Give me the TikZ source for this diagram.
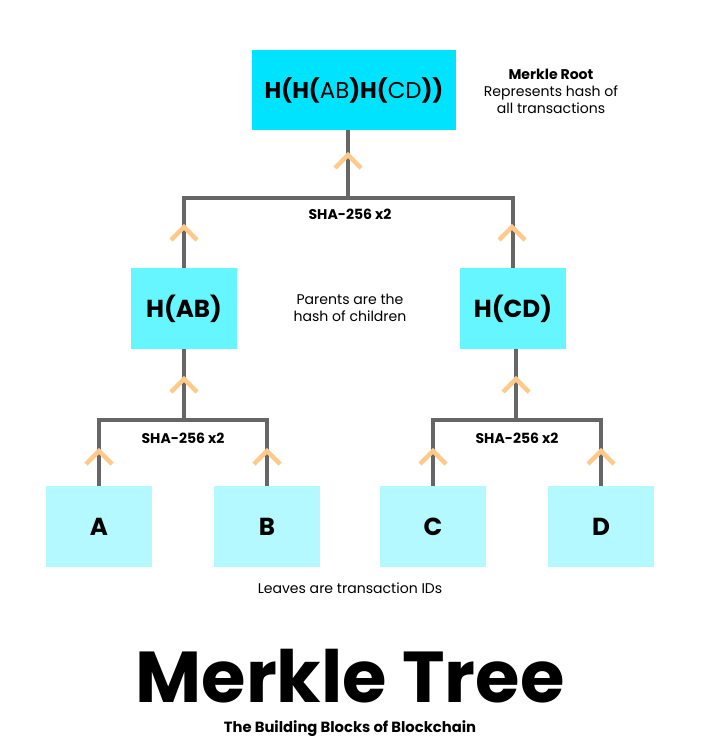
\documentclass[tikz,border=0pt]{standalone}
\usepackage{fontspec}
\setmainfont{Poppins}
\usetikzlibrary{positioning}
\definecolor{rootcyan}{HTML}{00E3FF}
\definecolor{midcyan}{HTML}{66F6FF}
\definecolor{leafcyan}{HTML}{B3F9FF}
\definecolor{linkgray}{HTML}{666666}
\definecolor{chevorange}{HTML}{FFC98A}
\newcommand{\chev}[1]{\draw[chevron] (#1) ++(-13,13) -- ++(13,-13) -- ++(13,13);}
\tikzset{
  hashbox/.style={minimum width=2.12cm, minimum height=1.62cm, inner sep=0pt,
    font=\bfseries\fontsize{14}{16}\selectfont},
  link/.style={draw=linkgray, line width=2.8pt},
  chevron/.style={draw=chevorange, line width=2.6pt},
  note/.style={align=center, font=\fontsize{8}{9.6}\selectfont},
  shalabel/.style={font=\bfseries\fontsize{8}{9.6}\selectfont}
}
\begin{document}
\begin{tikzpicture}[x=0.02cm, y=-0.02cm]
\useasboundingbox (0,0) rectangle (700,750);

%root
\node[hashbox, fill=rootcyan, minimum width=4.08cm, minimum height=1.6cm,
  font=\bfseries\fontsize{13}{16}\selectfont] (root) at (354,90)
  {H(H(\mdseries AB\bfseries)H(\mdseries CD\bfseries))};
\node[note] (rootnote) at (551,91) {\textbf{Merkle Root}\\Represents hash of\\all transactions};

%parents
\node[hashbox, fill=midcyan] (hab) at (184,308.5) {H(AB)};
\node[hashbox, fill=midcyan] (hcd) at (513,308.5) {H(CD)};
\node[note] (parnote) at (350,308) {Parents are the\\hash of children};

%leaves
\def\leafy{526.5}
\foreach \name/\x/\txt in {la/99/A, lb/267/B, lc/433/C, ld/601/D}
  \node[hashbox, fill=leafcyan] (\name) at (\x,\leafy) {\txt};
\node[note] (leafnote) at (350,588) {Leaves are transaction IDs};

%junctions
\coordinate (jroot) at (348,198);
\coordinate (jab) at (184,420);
\coordinate (jcd) at (516,420);

%links
\draw[link] (root.south -| jroot) -- (jroot);
\draw[link] (hab.north) |- (hcd.north |- jroot) -- (hcd.north);
\draw[link] (hab.south) -- (jab);
\draw[link] (la.north) |- (lb.north |- jab) -- (lb.north);
\draw[link] (hcd.south -| jcd) -- (jcd);
\draw[link] (lc.north) |- (ld.north |- jcd) -- (ld.north);

\node[shalabel] (sharoot) at (350,214) {SHA-256 x2};
\node[shalabel] (shaab) at (183,438) {SHA-256 x2};
\node[shalabel] (shacd) at (517,438) {SHA-256 x2};

%chevrons
\coordinate (c0) at (348,155);
\coordinate (c1) at (184,227);
\coordinate (c2) at (512,227);
\coordinate (c3) at (184,379);
\coordinate (c4) at (516,379);
\foreach \c/\x in {c5/99, c6/267, c7/433, c8/601}
  \coordinate (\c) at (\x,451);
\foreach \c in {c0,c1,c2,c3,c4,c5,c6,c7,c8}
  {\chev{\c}}

%title
\node[inner sep=0pt, text depth=0pt, font=\bfseries\fontsize{41}{46}\selectfont] (title) at (350,676) {Merkle Tree};
\node[inner sep=0pt, text height=1.5ex, text depth=0.3ex, font=\bfseries\fontsize{8.4}{10}\selectfont] (subtitle) at (350,727) {The Building Blocks of Blockchain};
\end{tikzpicture}
\end{document}
